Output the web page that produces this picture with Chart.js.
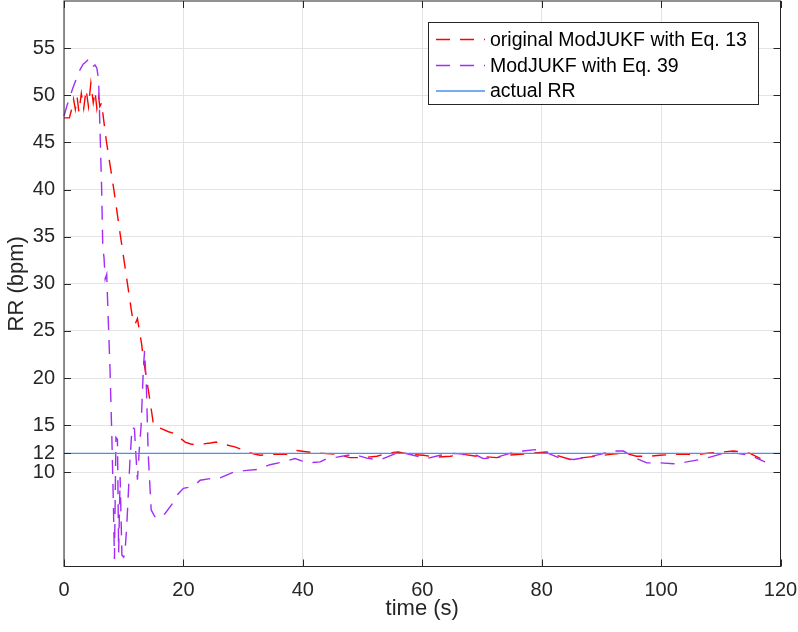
<!DOCTYPE html>
<html>
<head>
<meta charset="utf-8">
<script src="https://cdn.jsdelivr.net/npm/chart.js@4.4.0/dist/chart.umd.min.js"></script>
<style>
  html, body { margin: 0; padding: 0; background: #fff; }
  #wrap { width: 798px; height: 632px; }
</style>
</head>
<body>
<div id="wrap"><canvas id="rr-chart" width="798" height="632"></canvas></div>
<script>
// axis ticks
const xTicks = [0, 20, 40, 60, 80, 100, 120];
const yTicks = [10, 12, 15, 20, 25, 30, 35, 40, 45, 50, 55];

const seriesLabels = ['original ModJUKF with Eq. 13', 'ModJUKF with Eq. 39', 'actual RR'];

// original ModJUKF with Eq. 13 (red dashed)
const origTime = [0, 0.9, 1.2, 1.6, 1.9, 2.2, 2.5, 2.9, 3.3, 3.7, 4.1, 4.5, 4.9, 5.2, 5.5, 5.8, 6.0, 6.3,
  6.6, 7.1, 8.3, 9.4, 10.4, 11.3, 11.6, 11.9, 12.3, 13.0, 13.3, 14.4, 15.0, 15.6, 16.4, 17.5, 18.6, 19.3,
  20.3, 21.2, 22.2, 23.2, 24.5, 25.5, 26.1, 27.2, 28.6, 29.8, 30.9, 32.8, 35.1, 37.3, 39.0, 40.2, 41.5,
  43.4, 45.7, 47.9, 50.1, 52.4, 54.0, 56.0, 58.0, 60.2, 62.4, 64.7, 66.9, 69.1, 70.5, 72.5, 74.2, 76.4,
  78.1, 80.9, 82.5, 84.8, 87.0, 89.2, 91.5, 93.7, 95.9, 98.2, 99.8, 102.1, 104.3, 106.5, 108.2, 110.4,
  112.1, 113.2, 114.9, 117.4];
const origRR = [47.6, 47.6, 48.3, 49.6, 48.5, 49.8, 48.2, 50.2, 48.6, 50.6, 48.8, 51.3, 49.2, 50.4, 48.6, 49.8, 48.8, 49.2,
  47.6, 45.1, 40.2, 35.3, 31.0, 27.1, 25.9, 25.7, 26.3, 23.6, 22.0, 17.6, 15.0, 14.8, 14.6, 14.3, 14.1, 13.7,
  13.2, 13.0, 12.9, 13.0, 13.1, 13.2, 13.0, 12.9, 12.7, 12.4, 12.1, 11.8, 11.9, 11.9, 12.3, 12.2, 12.1,
  12.0, 11.9, 11.55, 11.55, 11.7, 12.0, 12.15, 11.9, 11.8, 11.6, 11.7, 11.9, 11.7, 11.65, 11.55, 11.8, 11.9,
  12.0, 12.15, 11.8, 11.35, 11.55, 11.7, 11.9, 12.05, 11.7, 11.7, 11.8, 11.9, 11.9, 11.9, 12.05, 12.15,
  12.25, 12.2, 12.0, 11.2];

// ModJUKF with Eq. 39 (purple dashed)
const eq39Time = [0, 0.5, 1.5, 2.5, 3.2, 3.6, 4.1, 4.4, 4.7, 5.2, 5.5, 5.8, 6.0, 6.3, 6.5, 6.7, 6.9, 7.15,
  7.4, 7.7, 8.0, 8.26, 8.45, 8.7, 8.95, 9.15, 9.4, 9.7, 10.0, 10.2, 10.5, 11.05, 11.4, 11.8, 12.0, 12.3,
  12.6, 12.9, 13.3, 13.5, 13.8, 14.1, 14.6, 15.2, 15.9, 16.9, 18.3, 19.1, 20.0, 20.8, 22.2, 22.8, 24.2,
  26.1, 28.4, 30.6, 32.5, 34.5, 36.7, 38.7, 39.8, 40.9, 42.9, 44.0, 45.7, 48.5, 50.7, 52.9, 55.2, 56.3,
  58.5, 60.7, 63.0, 65.2, 67.5, 69.1, 70.2, 72.5, 74.7, 76.9, 78.9, 80.9, 83.2, 85.4, 87.6, 89.8, 91.7,
  93.7, 95.9, 97.6, 99.8, 102.1, 104.3, 106.5, 108.2, 110.4, 112.7, 114.9, 117.4];
const eq39RR = [47.8, 48.9, 50.8, 52.5, 53.3, 53.5, 53.8, 53.6, 53.0, 53.2, 52.9, 51.6, 47.0, 40.2, 33.8, 32.8, 30.5, 31.0,
  26.4, 21.1, 14.1, 7.0, 0.8, 13.7, 13.5, 1.5, 9.5, 1.2, 1.0, 1.4, 4.2, 11.3, 14.8, 14.6, 12.3, 9.2,
  12.3, 14.8, 21.1, 22.9, 19.0, 12.0, 6.0, 5.3, 5.1, 5.6, 6.8, 7.7, 8.3, 8.4, 8.8, 9.15, 9.3,
  9.4, 10.0, 10.2, 10.3, 10.8, 11.1, 11.45, 11.2, 11.0, 11.1, 11.45, 11.6, 11.9, 11.5, 11.3, 11.9, 12.15,
  11.8, 11.45, 11.8, 12.0, 11.9, 11.8, 11.45, 11.6, 12.0, 12.25, 12.4, 12.05, 11.45, 11.35, 11.6, 11.9, 12.25,
  12.25, 11.45, 11.0, 11.0, 10.9, 11.1, 11.35, 11.6, 12.0, 12.0, 11.8, 11.1];

// actual RR (blue solid)
const actualTime = [0, 120];
const actualRR = [12, 12];

const axisColor = '#262626';
const fontFamily = '"Liberation Sans", Arial, Helvetica, sans-serif';

function toPoints(xs, ys) {
  return xs.map((x, i) => ({ x: x, y: ys[i] }));
}

// draws the full axes box with inward tick marks (matlab style)
const boxPlugin = {
  id: 'axesBox',
  afterDatasetsDraw(chart) {
    const { ctx, chartArea: a, scales } = chart;
    const tl = 7;
    ctx.save();
    ctx.strokeStyle = axisColor;
    ctx.lineWidth = 1;
    ctx.strokeRect(a.left, a.top, a.right - a.left, a.bottom - a.top);
    ctx.beginPath();
    xTicks.forEach(v => {
      const px = Math.round(scales.x.getPixelForValue(v)) + 0.5;
      ctx.moveTo(px, a.bottom); ctx.lineTo(px, a.bottom - tl);
      ctx.moveTo(px, a.top); ctx.lineTo(px, a.top + tl);
    });
    yTicks.forEach(v => {
      const py = Math.round(scales.y.getPixelForValue(v)) + 0.5;
      ctx.moveTo(a.left, py); ctx.lineTo(a.left + tl, py);
      ctx.moveTo(a.right, py); ctx.lineTo(a.right - tl, py);
    });
    ctx.stroke();
    ctx.restore();
  }
};

// legend box inside the axes, top right
const legendPlugin = {
  id: 'boxLegend',
  afterDraw(chart) {
    const ctx = chart.ctx;
    const left = 428.5, top = 22.5, w = 330, h = 82;
    const rowY = [39.5, 65.5, 91];
    ctx.save();
    ctx.fillStyle = '#fff';
    ctx.fillRect(left, top, w, h);
    ctx.strokeStyle = axisColor;
    ctx.lineWidth = 1;
    ctx.strokeRect(left, top, w, h);
    chart.data.datasets.forEach((ds, i) => {
      ctx.beginPath();
      ctx.strokeStyle = ds.borderColor;
      ctx.lineWidth = ds.borderWidth;
      ctx.setLineDash(ds.borderDash || []);
      ctx.moveTo(436, rowY[i]);
      ctx.lineTo(485, rowY[i]);
      ctx.stroke();
      ctx.setLineDash([]);
      ctx.fillStyle = '#000';
      ctx.font = '19.5px ' + fontFamily;
      ctx.textBaseline = 'middle';
      ctx.textAlign = 'left';
      ctx.fillText(ds.label, 490, rowY[i] + 1);
    });
    ctx.restore();
  }
};

const ctx = document.getElementById('rr-chart').getContext('2d');
new Chart(ctx, {
  type: 'line',
  data: {
    datasets: [{
      label: seriesLabels[0],
      data: toPoints(origTime, origRR),
      borderColor: '#ff0000',
      borderWidth: 1.4,
      borderDash: [14, 10],
      order: 3
    }, {
      label: seriesLabels[1],
      data: toPoints(eq39Time, eq39RR),
      borderColor: '#a32cf7',
      borderWidth: 1.4,
      borderDash: [14, 10],
      order: 2
    }, {
      label: seriesLabels[2],
      data: toPoints(actualTime, actualRR),
      borderColor: '#4a8ff2',
      borderWidth: 1.4,
      order: 1
    }]
  },
  options: {
    responsive: false,
    animation: false,
    devicePixelRatio: 1,
    clip: false,
    elements: { point: { radius: 0 }, line: { tension: 0 } },
    layout: { padding: { left: 0, right: 17.5, top: 1, bottom: 0 } },
    plugins: {
      legend: { display: false },
      tooltip: { enabled: false }
    },
    scales: {
      x: {
        type: 'linear',
        min: 0,
        max: 120,
        afterFit: s => { s.height = 65.5; s.paddingLeft = 0; s.paddingRight = 0; },
        afterBuildTicks: s => { s.ticks = xTicks.map(v => ({ value: v })); },
        grid: { color: '#e3e3e3', drawTicks: false },
        border: { display: false },
        ticks: { color: axisColor, font: { size: 20, family: fontFamily }, padding: 12, maxRotation: 0 },
        title: { display: true, text: 'time (s)', color: axisColor, font: { size: 22, family: fontFamily }, padding: { bottom: 10 } }
      },
      y: {
        type: 'linear',
        min: 0,
        max: 60,
        afterFit: s => { s.width = 64; s.paddingTop = 0; s.paddingBottom = 0; },
        afterBuildTicks: s => { s.ticks = yTicks.map(v => ({ value: v })); },
        grid: { color: '#e3e3e3', drawTicks: false },
        border: { display: false },
        ticks: { color: axisColor, font: { size: 20, family: fontFamily }, padding: 9 },
        title: { display: true, text: 'RR (bpm)', color: axisColor, font: { size: 22, family: fontFamily }, padding: { top: 4 } }
      }
    }
  },
  plugins: [boxPlugin, legendPlugin]
});
</script>
</body>
</html>
